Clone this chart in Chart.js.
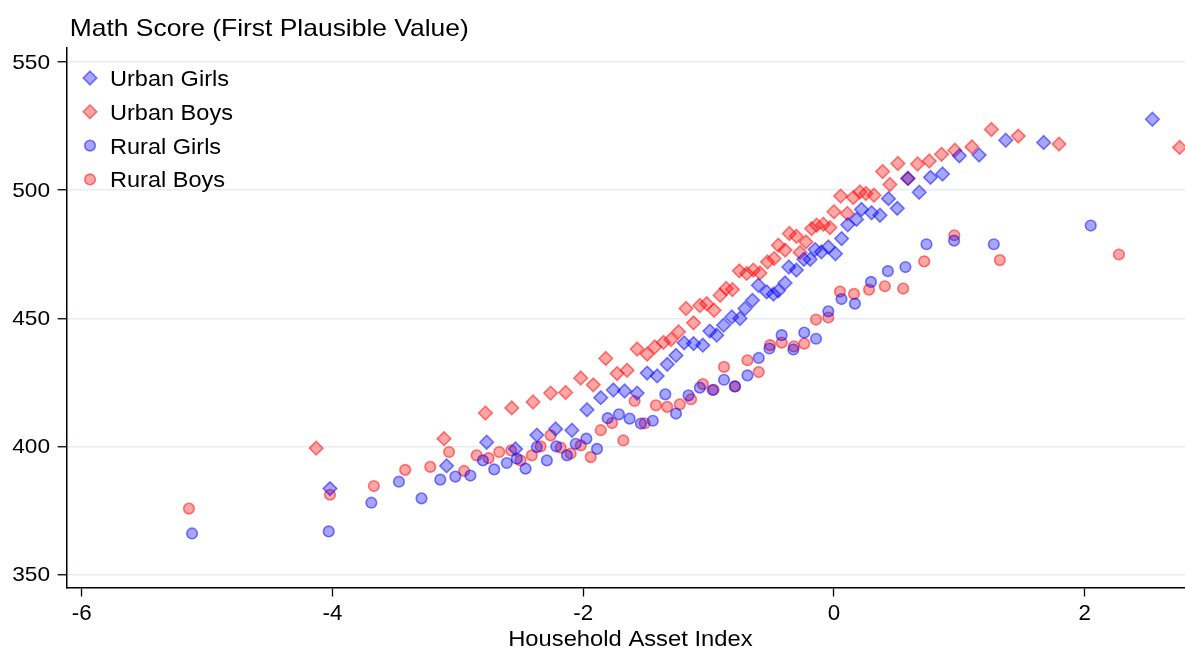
<!DOCTYPE html>
<html>
<head>
<meta charset="utf-8">
<script src="https://cdn.jsdelivr.net/npm/chart.js@4.4.0/dist/chart.umd.min.js"></script>
<style>
  html, body { margin: 0; padding: 0; background: #fff; overflow: hidden; }
  #wrap { width: 1185px; height: 649px; position: relative; overflow: hidden; }
  #scores { display: block; }
</style>
</head>
<body>
<div id="wrap"><canvas id="scores"></canvas></div>
<script>
  const seriesNames = ['Urban Girls', 'Urban Boys', 'Rural Girls', 'Rural Boys'];
  const yTitle = 'Math Score (First Plausible Value)';
  const xTitle = 'Household Asset Index';
  const xTicks = [-6, -4, -2, 0, 2];
  const yTicks = [350, 400, 450, 500, 550];

  const urbanGirlsX = [-4.02, -3.09, -2.77, -2.54, -2.37, -2.22, -2.09, -1.97, -1.86, -1.76, -1.67, -1.57,
    -1.49, -1.41, -1.33, -1.26, -1.195, -1.12, -1.046, -0.99, -0.935, -0.88, -0.815, -0.75, -0.71, -0.65,
    -0.603, -0.536, -0.483, -0.444, -0.39, -0.36, -0.30, -0.24, -0.19, -0.15, -0.10, -0.045, 0.012, 0.061,
    0.11, 0.18, 0.22, 0.30, 0.367, 0.435, 0.505, 0.59, 0.68, 0.77, 0.866, 1.0, 1.158, 1.37, 1.673, 2.54];
  const urbanGirlsY = [383.5, 392.4, 401.6, 399, 404.4, 406.8, 406.3, 414.3, 419, 422, 421.6, 420.8,
    428.6, 427.5, 432, 435.5, 440.4, 440.1, 439.5, 445, 443.4, 447.3, 450.5, 449.9, 453.8, 457,
    462.9, 460.3, 459.4, 460.7, 463.8, 470, 468.8, 473, 473, 476.8, 475.9, 477.8, 475.2, 481.1,
    486.5, 488.6, 492.5, 491.2, 490.2, 496.7, 492.9, 504.6, 499.2, 505, 506.3, 513.4, 513.7, 519.5, 518.6, 527.7];

  const urbanBoysX = [-4.13, -3.11, -2.78, -2.57, -2.40, -2.26, -2.14, -2.02, -1.92, -1.82, -1.73, -1.65,
    -1.57, -1.49, -1.43, -1.36, -1.30, -1.24, -1.18, -1.12, -1.07, -1.015, -0.956, -0.908, -0.86, -0.81,
    -0.755, -0.696, -0.643, -0.59, -0.53, -0.478, -0.444, -0.39, -0.356, -0.30, -0.27, -0.223, -0.178,
    -0.138, -0.085, -0.032, 0.0, 0.053, 0.106, 0.154, 0.207, 0.255, 0.319, 0.388, 0.446, 0.51, 0.59,
    0.667, 0.76, 0.858, 0.964, 1.10, 1.256, 1.47, 1.795, 2.757];
  const urbanBoysY = [399.3, 403, 413, 415, 417.3, 420.8, 421, 426.7, 424, 434.3, 428.4, 429.7,
    438, 436, 438.8, 440.6, 441.7, 444.7, 453.8, 448.2, 455, 455.7, 453.1, 459, 461.6, 461.2,
    468.5, 467.5, 468.8, 467.7, 472, 473.3, 478.5, 476.6, 483.1, 482, 475.7, 479.8, 485,
    486.3, 486.7, 485.4, 491.6, 497.7, 490.9, 497.1, 499.3, 498.7, 498, 507.3, 502.2, 510.4, 504.6,
    510.2, 511.4, 514, 515.6, 516.9, 523.7, 521.1, 518, 516.7];

  const ruralGirlsX = [-5.12, -4.03, -3.69, -3.47, -3.29, -3.14, -3.02, -2.90, -2.80, -2.71, -2.61, -2.53,
    -2.46, -2.37, -2.29, -2.215, -2.13, -2.06, -1.975, -1.89, -1.805, -1.715, -1.63, -1.54, -1.445, -1.345,
    -1.26, -1.16, -1.07, -0.967, -0.877, -0.79, -0.69, -0.60, -0.515, -0.417, -0.324, -0.237, -0.143,
    -0.045, 0.06, 0.167, 0.295, 0.43, 0.57, 0.738, 0.958, 1.275, 2.048];
  const ruralGirlsY = [366, 366.8, 378, 386.2, 379.7, 387, 388.2, 388.6, 394.5, 391, 393.5, 395.2,
    391.3, 399.7, 394.5, 400, 396.5, 401, 403, 399, 411, 412.5, 410.8, 408.9, 410, 420.3,
    412.8, 419.9, 422.9, 422, 426, 423.4, 427.7, 434.5, 438.2, 443.4, 437.8, 444.4, 442,
    452.7, 457.5, 455.7, 464.2, 468.4, 470, 478.9, 480.3, 478.9, 486.2];

  const ruralBoysX = [-5.145, -4.02, -3.67, -3.42, -3.22, -3.07, -2.95, -2.85, -2.755, -2.67, -2.575, -2.50,
    -2.41, -2.34, -2.26, -2.18, -2.10, -2.02, -1.94, -1.86, -1.77, -1.68, -1.59, -1.51, -1.42, -1.33,
    -1.23, -1.14, -1.046, -0.96, -0.877, -0.79, -0.69, -0.60, -0.51, -0.417, -0.32, -0.237, -0.143,
    -0.045, 0.048, 0.16, 0.28, 0.406, 0.552, 0.72, 0.96, 1.323, 2.273];
  const ruralBoysY = [375.7, 381.1, 384.5, 390.8, 392, 397.8, 390.4, 396.5, 395.4, 397.8, 398.4, 394.5,
    396.5, 400, 404.3, 399.5, 397.2, 400.4, 395.8, 406.3, 409.1, 402.3, 417.7, 409, 416, 415.4,
    416.4, 418.4, 424.3, 422.1, 431, 423.4, 433.6, 429, 439.5, 440.5, 439, 440.1, 449.5,
    450.3, 460.4, 459.5, 461.2, 462.5, 461.6, 472.2, 482.4, 472.7, 474.9];

  const FONT = '"Liberation Sans", Arial, Helvetica, sans-serif';
  const BLUE_FILL = 'rgba(0, 0, 255, 0.35)';
  const BLUE_LINE = 'rgba(0, 0, 255, 0.5)';
  const RED_FILL = 'rgba(255, 0, 0, 0.35)';
  const RED_LINE = 'rgba(255, 0, 0, 0.5)';

  function toPoints(xs, ys) {
    return xs.map((x, i) => ({ x, y: ys[i] }));
  }

  function series(label, xs, ys, style, fill, line) {
    const diamond = style === 'rectRot';
    return {
      label,
      data: toPoints(xs, ys),
      pointStyle: style,
      pointRadius: diamond ? 6.8 : 5.3,
      pointHoverRadius: diamond ? 6.8 : 5.3,
      backgroundColor: fill,
      borderColor: line,
      borderWidth: 1.6,
    };
  }

  // the original font runs a bit wider than Liberation Sans, so text is drawn with a small x-stretch
  function wideText(ctx, text, x, y, size, stretch, align, baseline) {
    ctx.save();
    ctx.font = size + 'px ' + FONT;
    ctx.textAlign = align;
    ctx.textBaseline = baseline;
    ctx.translate(x, y);
    ctx.scale(stretch, 1);
    ctx.fillText(text, 0, 0);
    ctx.restore();
  }

  // Stata-style text: tick labels, titles and legend inside the plot
  const overlay = {
    id: 'overlay',
    afterDraw(chart) {
      const ctx = chart.ctx;
      const area = chart.chartArea;
      const xs = chart.scales.x;
      const ys = chart.scales.y;
      ctx.save();
      ctx.fillStyle = '#000';

      yTicks.forEach((v) => {
        wideText(ctx, String(v), 50, ys.getPixelForValue(v) + 1, 21, 1.08, 'right', 'middle');
      });
      xTicks.forEach((v) => {
        wideText(ctx, String(v), xs.getPixelForValue(v), 620, 21.5, 1.04, 'center', 'alphabetic');
      });
      wideText(ctx, xTitle, (area.left + area.right) / 2 + 4.5, 646, 22, 1.08, 'center', 'alphabetic');
      wideText(ctx, yTitle, area.left + 3, 35.5, 23.2, 1.14, 'left', 'alphabetic');

      chart.data.datasets.forEach((ds, i) => {
        const cx = 90;
        const cy = 78 + i * 33.8;
        ctx.fillStyle = ds.backgroundColor;
        ctx.strokeStyle = ds.borderColor;
        ctx.lineWidth = ds.borderWidth;
        ctx.beginPath();
        if (ds.pointStyle === 'rectRot') {
          const r = ds.pointRadius;
          ctx.moveTo(cx, cy - r);
          ctx.lineTo(cx + r, cy);
          ctx.lineTo(cx, cy + r);
          ctx.lineTo(cx - r, cy);
          ctx.closePath();
        } else {
          ctx.arc(cx, cy, ds.pointRadius, 0, Math.PI * 2);
        }
        ctx.fill();
        ctx.stroke();
        ctx.fillStyle = '#000';
        wideText(ctx, ds.label, 110, cy + 8, 21.4, 1.1, 'left', 'alphabetic');
      });
      ctx.restore();
    }
  };

  new Chart(document.getElementById('scores'), {
    type: 'scatter',
    data: {
      datasets: [
        series(seriesNames[0], urbanGirlsX, urbanGirlsY, 'rectRot', BLUE_FILL, BLUE_LINE),
        series(seriesNames[1], urbanBoysX, urbanBoysY, 'rectRot', RED_FILL, RED_LINE),
        series(seriesNames[2], ruralGirlsX, ruralGirlsY, 'circle', BLUE_FILL, BLUE_LINE),
        series(seriesNames[3], ruralBoysX, ruralBoysY, 'circle', RED_FILL, RED_LINE),
      ],
    },
    options: {
      responsive: true,
      maintainAspectRatio: false,
      animation: false,
      layout: { autoPadding: false, padding: { top: 48, right: 0, left: 0, bottom: 0 } },
      plugins: {
        legend: { display: false },
        tooltip: { enabled: false },
      },
      scales: {
        x: {
          type: 'linear',
          min: -6.12,
          max: 2.80,
          afterFit: (scale) => {
            scale.height = 61.5;
            scale.paddingLeft = 0;
            scale.paddingRight = 0;
          },
          afterBuildTicks: (scale) => { scale.ticks = xTicks.map((v) => ({ value: v })); },
          border: { display: true, color: '#000', width: 1.5 },
          grid: { drawOnChartArea: false, drawTicks: true, tickLength: 9, tickColor: '#000', tickWidth: 1.3 },
          ticks: { display: false, includeBounds: false },
        },
        y: {
          type: 'linear',
          min: 344.9,
          max: 555.5,
          afterFit: (scale) => {
            scale.width = 66.7;
            scale.paddingTop = 0;
            scale.paddingBottom = 0;
          },
          afterBuildTicks: (scale) => { scale.ticks = yTicks.map((v) => ({ value: v })); },
          border: { display: true, color: '#000', width: 1.5 },
          grid: { color: '#e6eef2', lineWidth: 1.5, drawTicks: true, tickLength: 9, tickColor: '#000', tickWidth: 1.3 },
          ticks: { display: false, includeBounds: false },
        },
      },
    },
    plugins: [overlay],
  });
</script>
</body>
</html>
